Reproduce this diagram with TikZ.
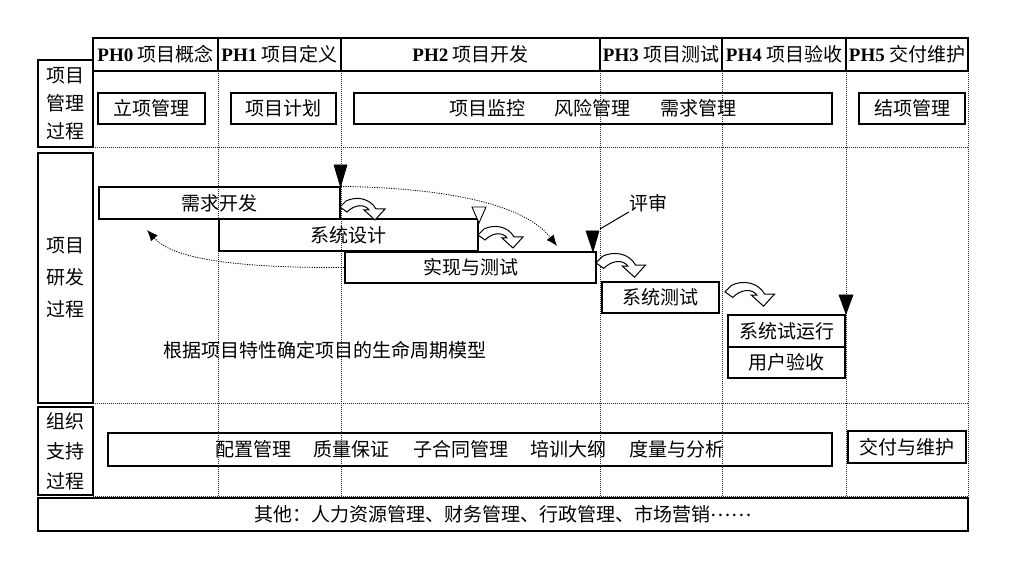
\documentclass[tikz,border=0pt]{standalone}
\usepackage{fontspec}
\setmainfont{Noto Sans CJK SC}
\newfontfamily\phfont{Liberation Serif}
\usetikzlibrary{arrows.meta}
\begin{document}
\begin{tikzpicture}[x=1pt,y=-1pt,
  txt/.style={inner sep=0pt, font=\fontsize{19}{24}\selectfont},
  box/.style={txt, draw, line width=1.2pt},
  hdr/.style={box, minimum height=33pt},
  lbl/.style={box, minimum width=55pt, align=center},
  gridline/.style={line width=0.6pt, dash pattern=on 1pt off 1pt, black!85},
  darr/.style={line width=0.8pt, dash pattern=on 1.2pt off 1.2pt, -{Latex[length=11pt,width=9pt]}},
  solidtri/.style={fill=black, draw=black, line width=0.6pt},
  opentri/.style={fill=white, draw=black, line width=0.9pt},
  curl/.pic={\draw[line width=1pt, fill=white, line join=miter] (0,9) -- (6,3) .. controls (16,-2) and (30,0) .. (36,11) -- (45,11) -- (35,22) -- (24,12) -- (29,12) .. controls (25,6) and (15,6) .. (7,14) -- cycle;}
]
\useasboundingbox[fill=white] (0,0) rectangle (1015,577);

% grid
\foreach \gx in {218,341,600,722,846,968} \draw[gridline] (\gx,71) -- (\gx,496);
\foreach \gy in {147,403,496} \draw[gridline] (93,\gy) -- (968,\gy);

% header
\node[hdr, minimum width=125pt] (h0) at (155.5,54.5) {{\phfont\bfseries PH0} 项目概念};
\node[hdr, minimum width=123pt] (h1) at (279.5,54.5) {{\phfont\bfseries PH1} 项目定义};
\node[hdr, minimum width=259pt] (h2) at (470.5,54.5) {{\phfont\bfseries PH2} 项目开发};
\node[hdr, minimum width=122pt] (h3) at (661,54.5) {{\phfont\bfseries PH3} 项目测试};
\node[hdr, minimum width=124pt] (h4) at (784,54.5) {{\phfont\bfseries PH4} 项目验收};
\node[hdr, minimum width=122pt] (h5) at (907,54.5) {{\phfont\bfseries PH5} 交付维护};

% left labels
\node[lbl, minimum height=87pt, font=\fontsize{19}{28}\selectfont] (l1) at (65.5,103.5) {项目\\管理\\过程};
\node[lbl, minimum height=250pt, font=\fontsize{19}{32}\selectfont] (l2) at (65.5,278) {项目\\研发\\过程};
\node[lbl, minimum height=88pt, font=\fontsize{19}{30}\selectfont] (l3) at (65.5,451) {组织\\支持\\过程};

% management row
\node[box, minimum width=107pt, minimum height=31pt] (lxgl) at (151.5,108.5) {立项管理};
\node[box, minimum width=105pt, minimum height=31pt] (xmjh) at (283.5,108.5) {项目计划};
\node[box, minimum width=478pt, minimum height=31pt] (jk) at (593,108.5) {项目监控\hspace{30pt}风险管理\hspace{30pt}需求管理};
\node[box, minimum width=106pt, minimum height=31pt] (jxgl) at (912,108.5) {结项管理};

% development row
\node[box, minimum width=241pt, minimum height=32pt] (xqkf) at (219.5,203) {需求开发};
\node[box, minimum width=259pt, minimum height=32pt] (xtsj) at (348.5,235) {系统设计};
\node[box, line width=2pt, minimum width=251pt, minimum height=31pt] (sxcs) at (470.5,267.5) {实现与测试};
\node[box, minimum width=117pt, minimum height=31pt] (xtcs) at (660.5,297.5) {系统测试};
\node[box, minimum width=117pt, minimum height=32pt] (xtsyx) at (786.5,331) {系统试运行};
\node[box, minimum width=117pt, minimum height=31pt] (yhys) at (786.5,362.5) {用户验收};

% milestones
\draw[solidtri] (334,165) -- (347,165) -- (340.5,187) -- cycle;
\draw[opentri] (472,207) -- (486,207) -- (479,223) -- cycle;
\draw[solidtri] (586,231) -- (599,231) -- (593,252) -- cycle;
\draw[solidtri] (839,295) -- (853,295) -- (846,314) -- cycle;

% review label
\node[txt] (ps) at (648,203) {评审};
\coordinate (psend) at (600,229);
\draw[line width=1pt] (ps.south west) -- (psend);

% curved hollow arrows
\pic at (340,198) {curl};
\pic at (478,226) {curl};
\pic[scale=1.1] at (596,253) {curl};
\pic[scale=1.1] at (725,282) {curl};

% dotted arrows
\coordinate (d1end) at (557,246);
\coordinate (d2end) at (147,230);
\draw[darr] (xqkf.north east) .. controls (450,188) and (525,205) .. (d1end);
\draw[darr] (sxcs.west) .. controls (230,268) and (172,258) .. (d2end);

\node[txt] (model) at (325,350) {根据项目特性确定项目的生命周期模型};

% support row
\node[box, minimum width=724pt, minimum height=33pt] (zc) at (470,449.5) {配置管理\hspace{23pt}质量保证\hspace{23pt}子合同管理\hspace{23pt}培训大纲\hspace{23pt}度量与分析};
\node[box, minimum width=118pt, minimum height=32pt] (jfwh) at (907,447) {交付与维护};

% other
\node[box, minimum width=930pt, minimum height=33pt] (other) at (503,514.5) {其他：人力资源管理、财务管理、行政管理、市场营销\raisebox{0.3em}{……}};
\end{tikzpicture}
\end{document}
